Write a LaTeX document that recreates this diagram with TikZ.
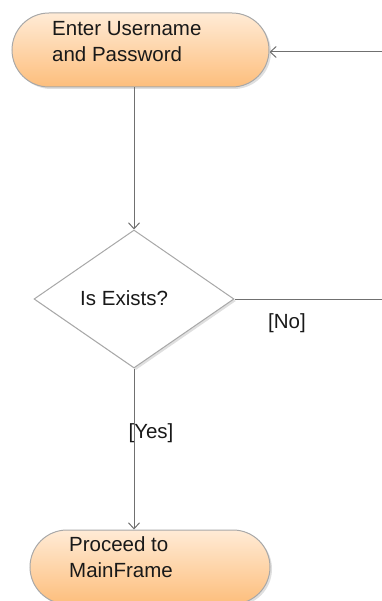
\documentclass[tikz,border=0pt]{standalone}
\usepackage{fontspec}
\setmainfont{Liberation Sans}
\usetikzlibrary{shapes.geometric,arrows.meta,shadows}
\definecolor{lineg}{HTML}{707070}
\definecolor{bordg}{HTML}{A8A8A8}
\definecolor{orlight}{HTML}{FFEBD6}
\definecolor{ordark}{HTML}{FDBE7C}
\tikzset{
  x=1pt,y=1pt,
  every node/.style={font=\fontsize{20.5}{26}\selectfont, text=black!90},
  stadium/.style={draw=bordg, line width=1pt, rectangle, rounded corners=37pt,
    minimum width=257pt, minimum height=74pt, inner sep=0pt,
    top color=orlight, bottom color=ordark,
    drop shadow={shadow xshift=2pt, shadow yshift=-2pt, opacity=0.25}},
  decision/.style={draw=bordg, line width=1pt, diamond, fill=white, inner sep=0pt,
    minimum width=200pt, minimum height=138pt, aspect=1.45,
    drop shadow={shadow xshift=2pt, shadow yshift=-2pt, opacity=0.25}},
  conn/.style={draw=lineg, line width=1pt, -{Straight Barb[length=6pt,width=11pt,line width=1pt]}},
  plain/.style={draw=lineg, line width=1pt},
  txt/.style={anchor=west, align=left, inner sep=0pt},
}
\begin{document}
\begin{tikzpicture}
\useasboundingbox (0,0) rectangle (381,-601);
% nodes
\node[stadium] (top) at (140.5,-50) {};
\node[txt] (toptxt) at (52,-42) {Enter Username\\and Password};
\node[decision] (d) at (134,-299) {};
\node[txt] (dtxt) at (80,-298) {Is Exists?};
\node[stadium, minimum width=240pt] (bot) at (150,-567) {};
\node[txt] (bottxt) at (69,-557) {Proceed to\\MainFrame};
% connectors
\coordinate (topout) at (top.south -| d.north);
\draw[conn] (topout) -- (d.north);
\coordinate (r1) at (395,-299);
\coordinate (r2) at (395,-52);
\draw[plain] (d.east) -- (r1) -- (r2);
\draw[conn] (r2) -- (top.east |- r2);
\coordinate (botin) at (bot.north -| d.south);
\draw[conn] (d.south) -- (botin);
% labels
\node[inner sep=0pt] (no) at (287,-323) {[No]};
\node[inner sep=0pt] (yes) at (151,-433) {[Yes]};
\end{tikzpicture}
\end{document}
